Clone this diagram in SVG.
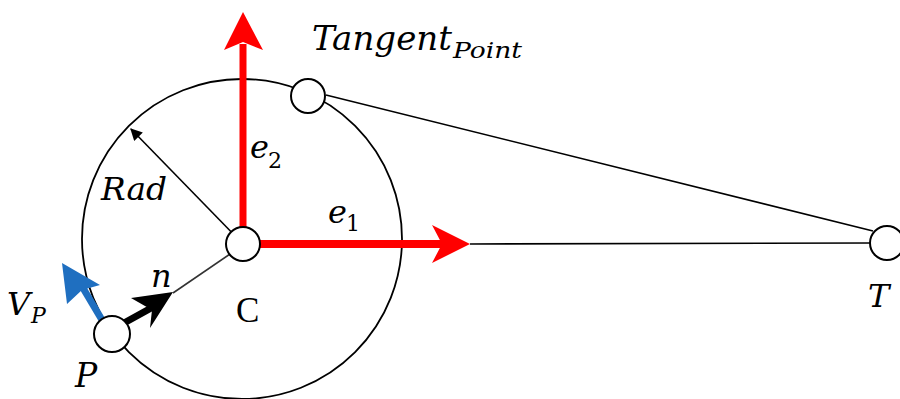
<svg xmlns="http://www.w3.org/2000/svg" width="900" height="399" viewBox="0 0 900 399">
<style>
.lbl{font-family:"DejaVu Serif","Liberation Serif",serif;font-style:italic;fill:#000}
.node{fill:#fff;stroke:#000;stroke-width:2}
.thin{stroke:#000;stroke-width:1.6;fill:none}
</style>
<defs>
<marker id="ah" viewBox="0 0 10 10" refX="9" refY="5" markerWidth="14" markerHeight="12" markerUnits="userSpaceOnUse" orient="auto"><path d="M0,0 L10,5 L0,10 Z" fill="#000"/></marker>
</defs>
<rect width="900" height="399" fill="#fff"/>
<circle cx="242" cy="239" r="160" fill="none" stroke="#000" stroke-width="1.8"/>
<g id="connectors">
<line class="thin" x1="326" y1="95" x2="873" y2="231"/>
<line class="thin" x1="470" y1="244" x2="870" y2="243"/>
<line x1="243" y1="244" x2="131" y2="129" stroke="#000" stroke-width="1.6" marker-end="url(#ah)"/>
<line x1="230" y1="254" x2="173" y2="293" stroke="#333" stroke-width="1.6"/>
<line x1="243" y1="230" x2="243" y2="44" stroke="#f00" stroke-width="7"/>
<path d="M243,12 L263,50 L243,42 L224,50 Z" fill="#f00"/>
<line x1="258" y1="244" x2="444" y2="244" stroke="#f00" stroke-width="8"/>
<path d="M470,244 L432,263 L442,244 L432,225 Z" fill="#f00"/>
<line x1="124" y1="323" x2="153" y2="307" stroke="#000" stroke-width="7"/>
<path d="M173,292 L150,328 L152,310 L131,298 Z" fill="#000"/>
<line x1="102" y1="320" x2="83" y2="288" stroke="#1f6fc0" stroke-width="7"/>
<path d="M62,263 L100,285 L82,290 L67,304 Z" fill="#1f6fc0"/>
</g>
<g id="node-C"><circle class="node" cx="243" cy="244" r="17"/><text x="236" y="322" font-family="Liberation Serif, serif" font-size="35">C</text></g>
<g id="node-tangent"><circle class="node" cx="308" cy="96" r="17"/><text class="lbl" x="312" y="50" font-size="33" textLength="140" lengthAdjust="spacingAndGlyphs">Tangent</text><text class="lbl" x="453" y="58" font-size="23" textLength="69" lengthAdjust="spacingAndGlyphs">Point</text></g>
<g id="node-T"><circle class="node" cx="887" cy="243" r="17"/><text class="lbl" x="868" y="307" font-size="32">T</text></g>
<g id="node-P"><circle class="node" cx="112" cy="334" r="18"/><text class="lbl" x="75" y="387" font-size="33">P</text><text class="lbl" x="7" y="315" font-size="32">V</text><text class="lbl" x="31" y="323" font-size="22">P</text></g>
<text class="lbl" x="101" y="200" font-size="32" textLength="66" lengthAdjust="spacingAndGlyphs">Rad</text>
<text class="lbl" x="151" y="287" font-size="32">n</text>
<text class="lbl" x="250" y="158" font-size="32">e</text><text class="lbl" x="268" y="168" font-size="22" style="font-style:normal">2</text>
<text class="lbl" x="328" y="223" font-size="32">e</text><text class="lbl" x="346" y="231" font-size="22" style="font-style:normal">1</text>
</svg>
